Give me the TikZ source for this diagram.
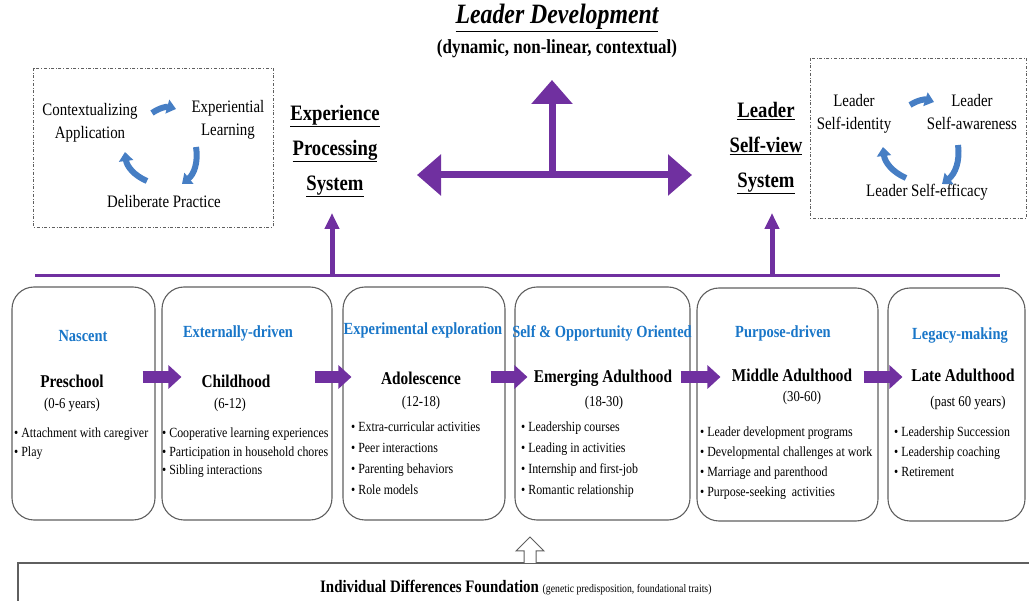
\documentclass[tikz,border=0pt]{standalone}
\usepackage{fontspec}
\setmainfont{Liberation Serif}[FakeStretch=0.85]
\usetikzlibrary{arrows.meta,positioning}

\definecolor{lpurple}{RGB}{112,48,160}
\definecolor{wblue}{RGB}{25,118,200}
\definecolor{cycblue}{RGB}{70,126,196}
\definecolor{framegray}{RGB}{95,95,95}

\tikzset{
  stage/.style={draw=framegray, line width=1.1pt, rounded corners=22pt, inner sep=0pt},
  phase/.style={text=wblue, font=\bfseries\fontsize{17}{20}\selectfont, inner sep=0pt},
  period/.style={font=\bfseries\fontsize{18}{21}\selectfont, inner sep=0pt},
  age/.style={font=\fontsize{15}{18}\selectfont, inner sep=0pt},
  items/.style={anchor=north west, align=left, inner sep=0pt, font=\fontsize{14}{20}\selectfont},
  flow/.style={lpurple, line width=12pt, -{Triangle[length=13pt,width=23pt]}},
  bigarrow/.style={lpurple, line width=7pt, -{Triangle[length=24pt,width=40pt]}},
  twoway/.style={lpurple, line width=7pt, {Triangle[length=24pt,width=40pt]}-{Triangle[length=24pt,width=40pt]}},
  uparrow/.style={lpurple, line width=5pt, -{Triangle[length=16pt,width=14pt]}},
  cyc/.style={font=\fontsize{17.5}{23}\selectfont, align=center, inner sep=0pt},
  cycarrow/.style={cycblue, line width=6pt, -{Triangle[length=9pt,width=14pt]}},
  system/.style={font=\bfseries\fontsize{22}{35}\selectfont, align=center, inner sep=0pt},
  loopbox/.style={draw=framegray, dash dot, line width=0.8pt}
}

\begin{document}
\begin{tikzpicture}[x=1pt, y=-1pt]
  \useasboundingbox (0,0) rectangle (1029,601);
  \clip (0,0) rectangle (1029,601);

  % heading
  \node[font=\bfseries\itshape\fontsize{28}{28}\selectfont, anchor=base, inner sep=0pt] (ld) at (557,24) {\underline{Leader Development}};
  \node[font=\bfseries\fontsize{20}{24}\selectfont, inner sep=0pt] (ldsub) at (557,49) {(dynamic, non-linear, contextual)};

  % the two systems
  \node[system] (eps) at (335,151) {\underline{Experience}\\ \underline{Processing}\\ \underline{System}};
  \node[system] (lsv) at (766,148) {\underline{Leader}\\ \underline{Self-view}\\ \underline{System}};

  \coordinate (hub) at (552,175);
  \coordinate (ldtip) at (552,80);
  \coordinate (epsin) at (417,175);
  \coordinate (lsvin) at (692,175);
  \draw[twoway] (epsin) -- (lsvin);
  \draw[bigarrow] (hub) -- (ldtip);

  % experience processing loop
  \draw[loopbox] (33,68) rectangle (273,227);
  \node[cyc] (ctx) at (90,123) {Contextualizing\\Application};
  \node[cyc] (exl) at (228,120) {Experiential\\Learning};
  \node[cyc] (dlp) at (164,202) {Deliberate Practice};
  \draw[cycarrow] (152,113) to[bend left=25] (176,109);
  \draw[cycarrow] (196,147) to[bend left=30] (182,184);
  \draw[cycarrow] (147,181) to[bend left=30] (125,152);

  % self-view loop
  \draw[loopbox] (810,58) rectangle (1026,218);
  \node[cyc] (sid) at (854,114) {Leader\\Self-identity};
  \node[cyc] (saw) at (972,112) {Leader\\Self-awareness};
  \node[cyc] (sef) at (927,192) {Leader Self-efficacy};
  \draw[cycarrow] (910,105) to[bend left=25] (934,102);
  \draw[cycarrow] (958,145) to[bend left=30] (942,184);
  \draw[cycarrow] (906,178) to[bend left=30] (883,147);

  % base line with arrows up to the systems
  \coordinate (baseL) at (35,276);
  \coordinate (baseR) at (1000,276);
  \draw[lpurple, line width=3pt] (baseL) -- (baseR);
  \coordinate (epstip) at (332,213);
  \coordinate (lsvtip) at (772,213);
  \draw[uparrow] (epstip |- baseL) -- (epstip);
  \draw[uparrow] (lsvtip |- baseL) -- (lsvtip);

  % life stages
  \node[stage, minimum width=143, minimum height=233] (b1) at (83.5,403.5) {};
  \node[stage, minimum width=170, minimum height=233] (b2) at (247,403.5) {};
  \node[stage, minimum width=162, minimum height=233] (b3) at (424,403.5) {};
  \node[stage, minimum width=175, minimum height=233] (b4) at (602.5,403.5) {};
  \node[stage, minimum width=181, minimum height=233] (b5) at (787.5,404.5) {};
  \node[stage, minimum width=137, minimum height=233] (b6) at (956.5,404.5) {};

  \node[phase] (p1) at (83,336) {Nascent};
  \node[phase] (p2) at (238,333) {Externally-driven};
  \node[phase] (p3) at (423,330) {Experimental exploration};
  \node[phase] (p4) at (602,333) {Self \& Opportunity Oriented};
  \node[phase] (p5) at (783,333) {Purpose-driven};
  \node[phase] (p6) at (960,335) {Legacy-making};

  \node[period] (t1) at (72,381) {Preschool};
  \node[period] (t2) at (236,381) {Childhood};
  \node[period] (t3) at (421,378) {Adolescence};
  \node[period] (t4) at (603,378) {Emerging Adulthood};
  \node[period] (t5) at (792,375) {Middle Adulthood};
  \node[period] (t6) at (963,375) {Late Adulthood};

  \node[age] (a1) at (72,405) {(0-6 years)};
  \node[age] (a2) at (230,405) {(6-12)};
  \node[age] (a3) at (421,403) {(12-18)};
  \node[age] (a4) at (604,403) {(18-30)};
  \node[age] (a5) at (802,398) {(30-60)};
  \node[age] (a6) at (968,403) {(past 60 years)};

  \node[items, font=\fontsize{14}{18.5}\selectfont] (i1) at (14,428) {\textbullet\ Attachment with caregiver\\ \textbullet\ Play};
  \node[items, font=\fontsize{14}{18.5}\selectfont] (i2) at (162,428) {\textbullet\ Cooperative learning experiences\\ \textbullet\ Participation in household chores\\ \textbullet\ Sibling interactions};
  \node[items, font=\fontsize{14}{21}\selectfont] (i3) at (351,422) {\textbullet\ Extra-curricular activities\\ \textbullet\ Peer interactions\\ \textbullet\ Parenting behaviors\\ \textbullet\ Role models};
  \node[items, font=\fontsize{14}{21}\selectfont] (i4) at (521,422) {\textbullet\ Leadership courses\\ \textbullet\ Leading in activities\\ \textbullet\ Internship and first-job\\ \textbullet\ Romantic relationship};
  \node[items] (i5) at (700,427) {\textbullet\ Leader development programs\\ \textbullet\ Developmental challenges at work\\ \textbullet\ Marriage and parenthood\\ \textbullet\ Purpose-seeking\ \ activities};
  \node[items] (i6) at (894,427) {\textbullet\ Leadership Succession\\ \textbullet\ Leadership coaching\\ \textbullet\ Retirement};

  \coordinate (row) at (0,377);
  \draw[flow] ([xshift=-13pt]b1.east |- row) -- ([xshift=20pt]b2.west |- row);
  \draw[flow] ([xshift=-18pt]b2.east |- row) -- ([xshift=9pt]b3.west |- row);
  \draw[flow] ([xshift=-15pt]b3.east |- row) -- ([xshift=13pt]b4.west |- row);
  \draw[flow] ([xshift=-10pt]b4.east |- row) -- ([xshift=24pt]b5.west |- row);
  \draw[flow] ([xshift=-15pt]b5.east |- row) -- ([xshift=15pt]b6.west |- row);

  % foundation
  \draw[framegray, line width=1.2pt] (18,630) |- (1040,563);
  \draw[framegray, line width=1pt, fill=white] (524,563) -- (524,551) -- (516,551) -- (530,537) -- (544,551) -- (536,551) -- (536,563);
  \node[anchor=base west, inner sep=0pt] (fnd) at (320,592) {\bfseries\fontsize{17.5}{20}\selectfont Individual Differences Foundation\ \mdseries\fontsize{11.5}{14}\selectfont (genetic predisposition, foundational traits)};
\end{tikzpicture}
\end{document}
